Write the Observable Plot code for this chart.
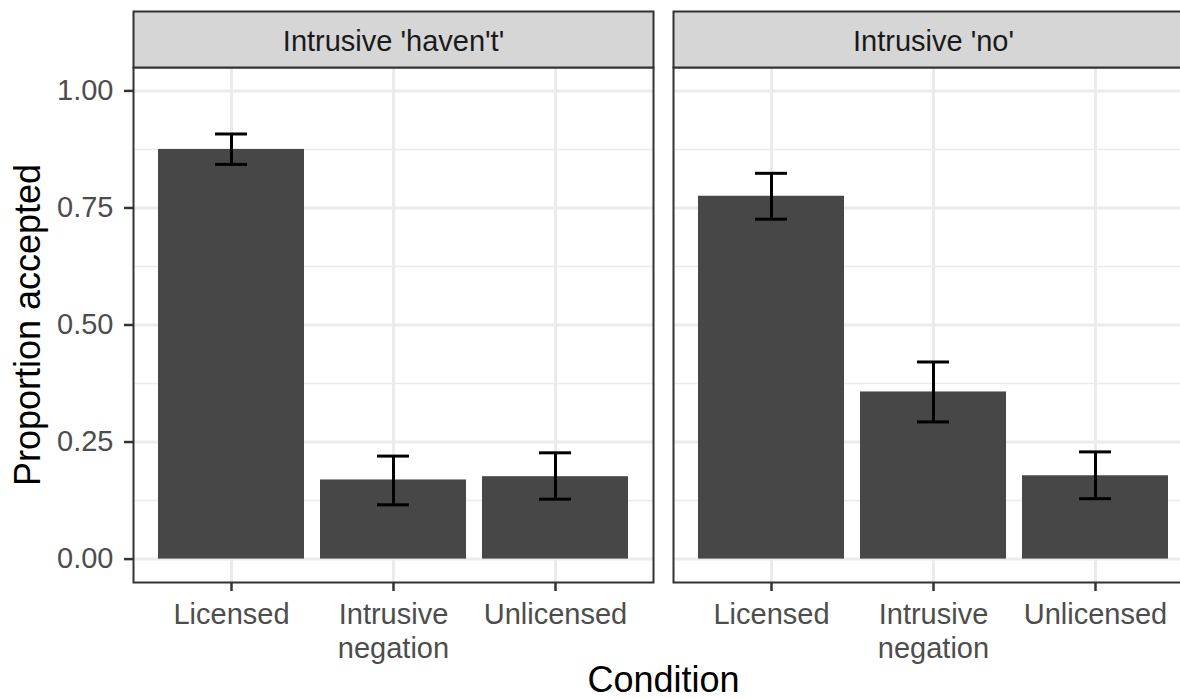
<!DOCTYPE html>
<html>
<head>
<meta charset="utf-8">
<script src="https://cdn.jsdelivr.net/npm/d3@7"></script>
<script src="https://cdn.jsdelivr.net/npm/@observablehq/plot@0.6"></script>
<style>
  html, body { margin: 0; padding: 0; background: #fff; overflow: hidden; }
  #chart { width: 1180px; height: 699px; overflow: hidden; }
  #chart svg { max-width: none !important; }
</style>
</head>
<body>
<div id="chart"></div>
<script>
// ---- data ----
const panels = ["Intrusive 'haven't'", "Intrusive 'no'"];
const conditions = ["Licensed", "Intrusive negation", "Unlicensed"];
const proportionHavent = [0.875, 0.169, 0.176];
const lowerHavent      = [0.843, 0.116, 0.128];
const upperHavent      = [0.908, 0.220, 0.227];
const proportionNo     = [0.775, 0.357, 0.178];
const lowerNo          = [0.726, 0.293, 0.129];
const upperNo          = [0.824, 0.421, 0.229];
const yTicks = [0, 0.25, 0.5, 0.75, 1];
const yMinor = [0.125, 0.375, 0.625, 0.875];

const rows = [];
conditions.forEach((c, i) => {
  rows.push({panel: panels[0], condition: c, p: proportionHavent[i], lo: lowerHavent[i], hi: upperHavent[i]});
  rows.push({panel: panels[1], condition: c, p: proportionNo[i], lo: lowerNo[i], hi: upperNo[i]});
});

const W = 1196, H = 699, mTop = 67, mBottom = 117, mLeft = 133, mRight = 2;
const plotH = H - mTop - mBottom;
const stripH = 56;
const font = "'Liberation Sans', Arial, Helvetica, sans-serif";

const chart = Plot.plot({
  width: W,
  height: H,
  marginTop: mTop,
  marginBottom: mBottom,
  marginLeft: mLeft,
  marginRight: mRight,
  style: {fontFamily: font, background: "#fff", overflow: "visible", maxWidth: "none"},
  fx: {domain: panels, paddingInner: 0.037, paddingOuter: 0, axis: null, label: null},
  x: {domain: conditions, paddingInner: 0.1, paddingOuter: 0.15, axis: null, label: null},
  y: {domain: [-0.05, 1.05], axis: null, label: null},
  marks: [
    // panel grid
    Plot.gridY(yMinor, {stroke: "#ebebeb", strokeOpacity: 1, strokeWidth: 1.5}),
    Plot.gridY(yTicks, {stroke: "#ebebeb", strokeOpacity: 1, strokeWidth: 3}),
    Plot.gridX(conditions, {stroke: "#ebebeb", strokeOpacity: 1, strokeWidth: 3}),
    // bars
    Plot.barY(rows, {fx: "panel", x: "condition", y: "p", fill: "#474747"}),
    // error bars
    Plot.ruleX(rows, {fx: "panel", x: "condition", y1: "lo", y2: "hi", stroke: "#000", strokeWidth: 3}),
    Plot.tickY(rows, {fx: "panel", x: "condition", y: "lo", stroke: "#000", strokeWidth: 3, insetLeft: 57, insetRight: 57}),
    Plot.tickY(rows, {fx: "panel", x: "condition", y: "hi", stroke: "#000", strokeWidth: 3, insetLeft: 57, insetRight: 57}),
    // panel border
    Plot.frame({stroke: "#333", strokeWidth: 2}),
    // strip
    Plot.frame({fill: "#d6d6d6", stroke: "#333", strokeWidth: 2, insetTop: -stripH, insetBottom: plotH}),
    Plot.text(panels, {fx: d => d, text: d => d, frameAnchor: "top", dy: -37, fontSize: 29, fill: "#1a1a1a"}),
    // axes
    Plot.axisY({ticks: yTicks, tickFormat: d3.format(".2f"), tickSize: 9, tickPadding: 11,
      fontSize: 29, fill: "#4d4d4d", stroke: "#333", strokeWidth: 2.5, label: null}),
    Plot.axisY({ticks: [], label: "Proportion accepted", labelAnchor: "center", labelArrow: "none",
      labelOffset: 119, fontSize: 36, fill: "#000"}),
    Plot.axisX({tickSize: 9, tickPadding: 8, fontSize: 29, fill: "#4d4d4d", stroke: "#333", strokeWidth: 2.5,
      lineHeight: 1.18, label: null,
      tickFormat: d => d === "Intrusive negation" ? "Intrusive\nnegation" : d}),
    Plot.axisFx({anchor: "bottom", ticks: [], label: "Condition", labelAnchor: "center", labelArrow: "none",
      labelOffset: 109, fontSize: 36, fill: "#000"})
  ]
});
document.getElementById("chart").appendChild(chart);
</script>
</body>
</html>
